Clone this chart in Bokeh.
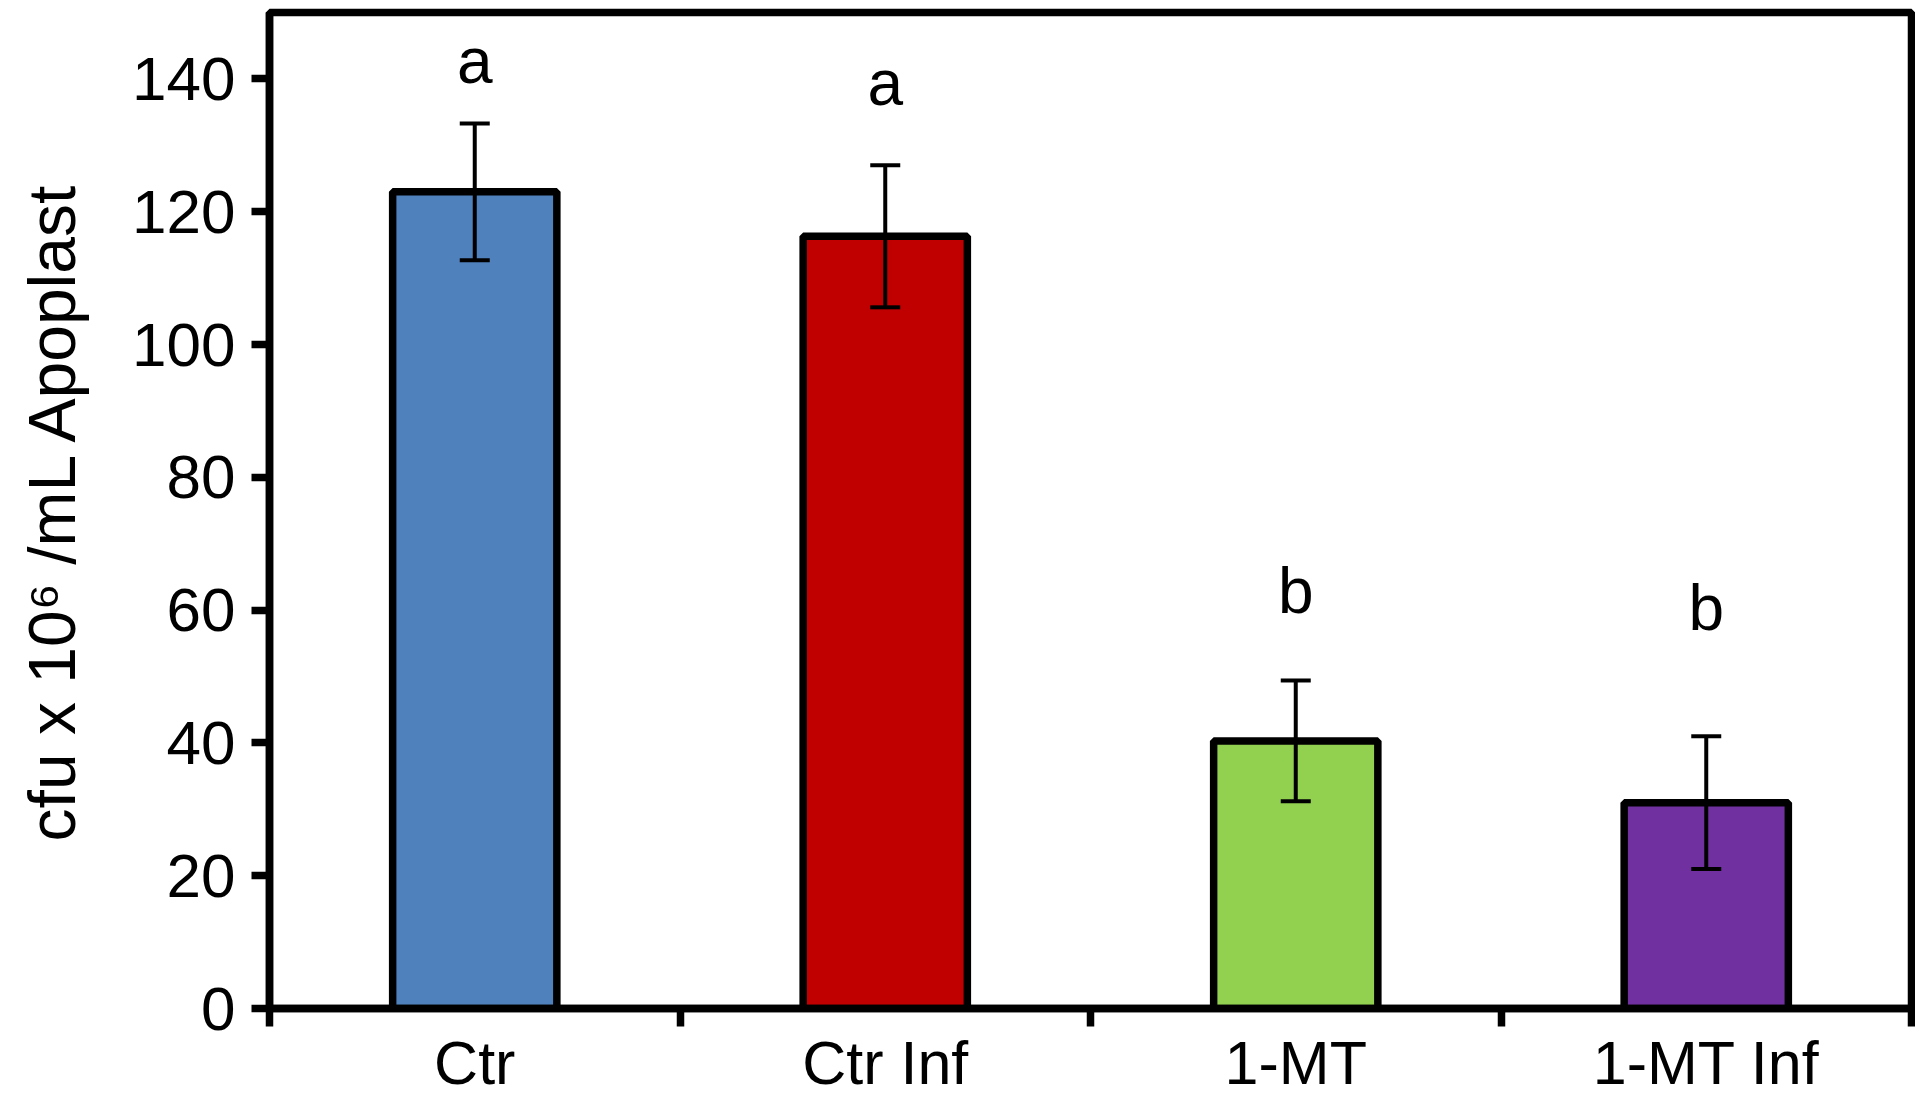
from bokeh.plotting import figure
from bokeh.models import ColumnDataSource, Range1d, FixedTicker, Whisker, TeeHead
from bokeh.core.properties import value
from bokeh.embed import file_html
from bokeh.resources import INLINE

# ---- data ----
categories = ["Ctr", "Ctr Inf", "1-MT", "1-MT Inf"]
means = [123.0, 116.3, 40.3, 31.0]
errors = [10.3, 10.7, 9.1, 10.0]
letters = ["a", "a", "b", "b"]
letter_y = [139.4, 136.1, 59.5, 57.0]
colors = ["#4F81BD", "#C00000", "#92D050", "#7030A0"]
y_ticks = [0, 20, 40, 60, 80, 100, 120, 140]
y_label = "cfu x 10\u2076 /mL Apoplast"

FONT = "Liberation Sans"
LW = 7.5

xs = [i + 0.5 for i in range(len(categories))]
bounds = list(range(len(categories) + 1))

src = ColumnDataSource(dict(
    x=xs, top=means, color=colors,
    upper=[m + e for m, e in zip(means, errors)],
    lower=[m - e for m, e in zip(means, errors)],
    letter=letters, ly=letter_y,
))

p = figure(width=1915, height=1099,
           x_range=Range1d(0, len(categories)), y_range=Range1d(0, 150),
           output_backend="svg", toolbar_location=None,
           min_border_left=269, min_border_right=4,
           min_border_top=12, min_border_bottom=0)

p.xgrid.visible = False
p.ygrid.visible = False
p.outline_line_color = "black"
p.outline_line_width = LW
p.outline_line_alpha = 1.0
p.background_fill_color = "white"
p.border_fill_color = "white"

p.vbar(x="x", top="top", width=0.4, bottom=0, fill_color="color",
       line_color="black", line_width=LW, source=src)

wh = Whisker(base="x", upper="upper", lower="lower", source=src,
             line_color="black", line_width=4, level="overlay",
             upper_head=TeeHead(size=30, line_width=4, line_color="black"),
             lower_head=TeeHead(size=30, line_width=4, line_color="black"))
p.add_layout(wh)

p.text(x="x", y="ly", text="letter", source=src,
       text_font=value(FONT), text_font_size="64px", y_offset=-22,
       text_align="center", text_baseline="alphabetic", text_color="black")

# x axis: ticks at category boundaries, labels at category centres
xa = p.xaxis[0]
xa.ticker = FixedTicker(ticks=xs, minor_ticks=bounds)
xa.major_label_overrides = {x: c for x, c in zip(xs, categories)}
xa.major_tick_line_color = None
xa.minor_tick_line_color = "black"
xa.minor_tick_line_width = LW
xa.minor_tick_out = 18
xa.minor_tick_in = 0
xa.axis_line_width = LW
xa.axis_line_color = "black"
xa.major_label_text_font = FONT
xa.major_label_text_font_size = "61px"
xa.major_label_text_color = "black"
xa.major_label_standoff = 2

# y axis
ya = p.yaxis[0]
ya.ticker = FixedTicker(ticks=y_ticks)
ya.major_tick_line_color = "black"
ya.major_tick_line_width = LW
ya.major_tick_out = 18
ya.major_tick_in = 0
ya.minor_tick_line_color = None
ya.axis_line_width = LW
ya.axis_line_color = "black"
ya.major_label_text_font = FONT
ya.major_label_text_font_size = "62px"
ya.major_label_text_color = "black"
ya.major_label_standoff = 16
ya.axis_label = y_label
ya.axis_label_text_font = FONT
ya.axis_label_text_font_size = "66px"
ya.axis_label_text_font_style = "normal"
ya.axis_label_text_color = "black"
ya.axis_label_standoff = 40

open("out.html", "w").write(file_html(p, INLINE))
